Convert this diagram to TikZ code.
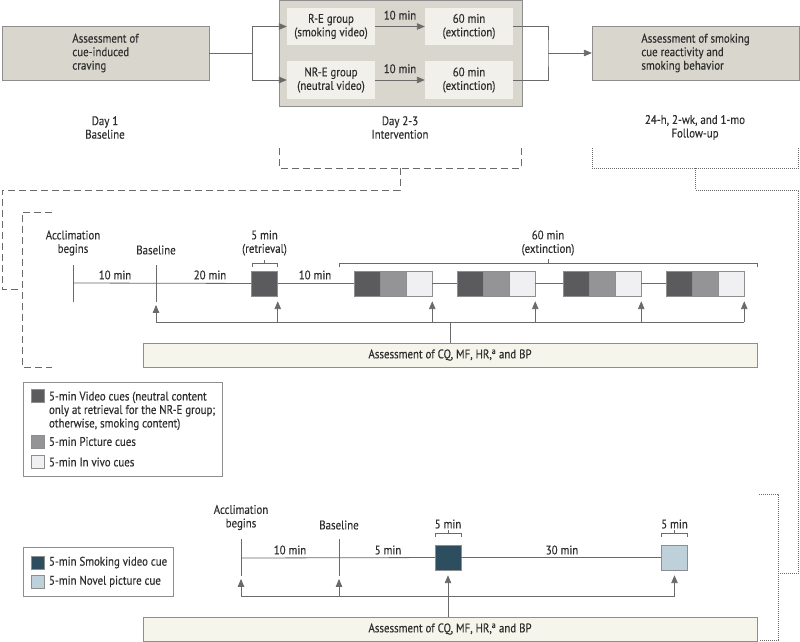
\documentclass[tikz,border=0pt]{standalone}
\usepackage{fontspec}
\setmainfont{PT Sans}[FakeStretch=0.87, FakeBold=0.3]
\usetikzlibrary{positioning, arrows}

\definecolor{inkgray}{HTML}{2E2E2E}
\definecolor{framegray}{HTML}{8E8E8E}
\definecolor{linkgray}{HTML}{6A6A6A}
\definecolor{stagefill}{HTML}{D9D7CD}
\definecolor{groupfill}{HTML}{F1F0EA}
\definecolor{assessfill}{HTML}{F5F5EC}
\definecolor{videocue}{HTML}{5B5B5D}
\definecolor{piccue}{HTML}{949496}
\definecolor{vivocue}{HTML}{F0F0F2}
\definecolor{smokecue}{HTML}{2C4E5E}
\definecolor{novelcue}{HTML}{BED1DB}

\begin{document}
\begin{tikzpicture}
	[x=1pt, y=-1pt, >=triangle 45, on grid, node distance=138pt,
	 font=\fontsize{12.5}{13.5}\selectfont, text=inkgray,
	 stage/.style={draw=framegray, fill=stagefill, minimum width=207pt, minimum height=54pt, align=left},
	 groupbox/.style={fill=groupfill, minimum width=88pt, minimum height=37pt, align=center},
	 link/.style={draw=linkgray, line width=0.8pt},
	 bracket/.style={draw=linkgray, line width=0.6pt},
	 cuebox/.style={draw=framegray, line width=0.5pt, minimum width=26pt, minimum height=25pt},
	 assess/.style={draw=framegray, fill=assessfill, minimum width=614pt, minimum height=24pt},
	 keybox/.style={draw=framegray, line width=0.6pt},
	 chip/.style={draw=framegray, line width=0.5pt, minimum size=13pt},
	 intervention path/.style={draw=linkgray, line width=0.9pt, dash pattern=on 7pt off 4pt},
	 followup path/.style={draw=linkgray, line width=0.9pt, dash pattern=on 1pt off 1pt}]
   \useasboundingbox (0,0) rectangle (800,642);

   % study phases
   \node[stage] (craving) at (105.5,53) {Assessment of\\cue-induced\\craving};
   \node[stage, minimum width=243pt, minimum height=105.5pt] (interv) at (400.5,53.25) {};
   \node[groupbox] (regrp) at (331,26.5) {R-E group\\(smoking video)};
   \node[groupbox, right=of regrp] (reext) {60 min\\(extinction)};
   \node[groupbox] (nrgrp) at (331,80) {NR-E group\\(neutral video)};
   \node[groupbox, right=of nrgrp] (nrext) {60 min\\(extinction)};
   \node[stage] (followup) at (695.5,53) {Assessment of smoking\\cue reactivity and\\smoking behavior};

   \node[align=center] (day1) at (105,127.5) {Day 1\\Baseline};
   \node[align=center] (day2) at (400,127.5) {Day 2-3\\Intervention};
   \node[align=center] (day3) at (695,127.5) {24-h, 2-wk, and 1-mo\\Follow-up};

   \coordinate (fork) at (252,53);
   \coordinate (merge) at (548,53);
   \draw[link] (craving) -- (fork);
   \draw[link,->] (fork) |- (regrp);
   \draw[link,->] (fork) |- (nrgrp);
   \draw[link,->] (regrp) -- node[above=3pt] {10 min} (reext);
   \draw[link,->] (nrgrp) -- node[above=3pt] {10 min} (nrext);
   \draw[link] (reext) -| (merge) |- (nrext);
   \draw[link,->] (merge) -- (followup);

   % call-outs
   \draw[intervention path] (279,148) -- (279,168) -- (521,168) -- (521,148);
   \draw[intervention path] (400,168) -- (400,190) -- (2,190) -- (2,289) -- (22,289);
   \draw[intervention path] (52,212) -- (22,212) -- (22,367) -- (52,367);
   \draw[followup path] (592,148) -- (592,168) -- (798.5,168) -- (798.5,148);
   \draw[followup path] (695.5,168) -- (695.5,190) -- (798.5,190) -- (798.5,573) -- (778,573);
   \draw[followup path] (759,494) -- (778,494) -- (778,640) -- (759,640);

   % intervention session
   \coordinate (acc1) at (73,283);
   \coordinate (base1) at (156,283);
   \coordinate (rail1) at (0,322);
   \node[cuebox, fill=videocue] (retr) at (264.5,283.5) {};
   \foreach \g/\x in {1/354,2/457,3/563,4/666} {
      \node[cuebox, fill=videocue] (vid\g) at (\x+13,283.5) {};
      \node[cuebox, fill=piccue, right=26pt of vid\g] (pic\g) {};
      \node[cuebox, fill=vivocue, right=26pt of pic\g] (viv\g) {};
   }
   \draw[link] (acc1) -- (retr);
   \draw[link] (retr) -- (vid1);
   \draw[link] (viv1) -- (vid2);
   \draw[link] (viv2) -- (vid3);
   \draw[link] (viv3) -- (vid4);
   \draw[link] (acc1) ++(0,-18) -- ++(0,37);
   \draw[link] (base1) ++(0,-18) -- ++(0,37);

   \node[align=center] (accl1) at (73,243) {Acclimation\\begins};
   \node (basel1) at (156,250) {Baseline};
   \node at (115,275) {10 min};
   \node at (210,275) {20 min};
   \node at (315,275) {10 min};
   \node[align=center] (retrl) at (264.5,243) {5 min\\(retrieval)};
   \node[align=center] (extl) at (548,243) {60 min\\(extinction)};
   \draw[bracket] (252,266.5) |- (277,263) -- (277,266.5);
   \draw[bracket] (264.5,263) -- (264.5,259.5);
   \draw[bracket] (339,267) |- (757,263) -- (757,267);
   \draw[bracket] (548,263) -- (548,259);

   \node[assess] (assess1) at (450,355) {Assessment of CQ, MF, HR,\textsuperscript{a} and BP};
   \draw[link] (base1 |- rail1) -- (viv4.south east |- rail1);
   \draw[link,->] (base1 |- rail1) -- ++(0,-17);
   \foreach \n in {retr, viv1, viv2, viv3, viv4}
      \draw[link,->,shorten >=5pt] (\n.south east |- rail1) -- (\n.south east);
   \draw[link] (assess1.north) -- (assess1.north |- rail1);

   % key for intervention session
   \node[keybox, minimum width=199pt, minimum height=94pt] (key1) at (122.5,429) {};
   \node[chip, fill=videocue] (chipvid) at (37.5,396) {};
   \node[chip, fill=piccue] (chippic) at (37.5,441.5) {};
   \node[chip, fill=vivocue] (chipviv) at (37.5,462) {};
   \node[anchor=north west, align=left] at (45.5,388) {5-min Video cues (neutral content\\only at retrieval for the NR-E group;\\otherwise, smoking content)};
   \node[anchor=west] at (45.5,441.5) {5-min Picture cues};
   \node[anchor=west] at (45.5,462) {5-min In vivo cues};

   % follow-up session
   \coordinate (acc2) at (241,558);
   \coordinate (base2) at (339,558);
   \coordinate (rail2) at (0,596);
   \node[cuebox, fill=smokecue] (smoke) at (448,557.5) {};
   \node[cuebox, fill=novelcue] (novel) at (674.5,557.5) {};
   \draw[link] (acc2) -- (smoke);
   \draw[link] (smoke) -- (novel);
   \draw[link] (acc2) ++(0,-19) -- ++(0,37);
   \draw[link] (base2) ++(0,-19) -- ++(0,37);

   \node[align=center] (accl2) at (241,517.5) {Acclimation\\begins};
   \node (basel2) at (339,525) {Baseline};
   \node at (290,550) {10 min};
   \node at (388,550) {5 min};
   \node at (562,550) {30 min};
   \node (smokel) at (448,524) {5 min};
   \node (novell) at (674.5,524) {5 min};
   \draw[bracket] (435,536.5) |- (461,533) -- (461,536.5);
   \draw[bracket] (448,533) -- (448,529.5);
   \draw[bracket] (661.5,536.5) |- (687.5,533) -- (687.5,536.5);
   \draw[bracket] (674.5,533) -- (674.5,529.5);

   \node[assess] (assess2) at (450,629) {Assessment of CQ, MF, HR,\textsuperscript{a} and BP};
   \draw[link] (acc2 |- rail2) -- (novel |- rail2);
   \draw[link,->] (acc2 |- rail2) -- ++(0,-17);
   \draw[link,->] (base2 |- rail2) -- ++(0,-17);
   \draw[link,->,shorten >=5pt] (novel |- rail2) -- (novel);
   \draw[link,->,shorten >=5pt] (smoke |- assess2.north) -- (smoke);

   % key for follow-up session
   \node[keybox, minimum width=150pt, minimum height=49pt] (key2) at (98,571.5) {};
   \node[chip, fill=smokecue] (chipsmoke) at (37.5,562.5) {};
   \node[chip, fill=novelcue] (chipnovel) at (37.5,581.5) {};
   \node[anchor=west] at (45.5,562.5) {5-min Smoking video cue};
   \node[anchor=west] at (45.5,581.5) {5-min Novel picture cue};
\end{tikzpicture}
\end{document}
